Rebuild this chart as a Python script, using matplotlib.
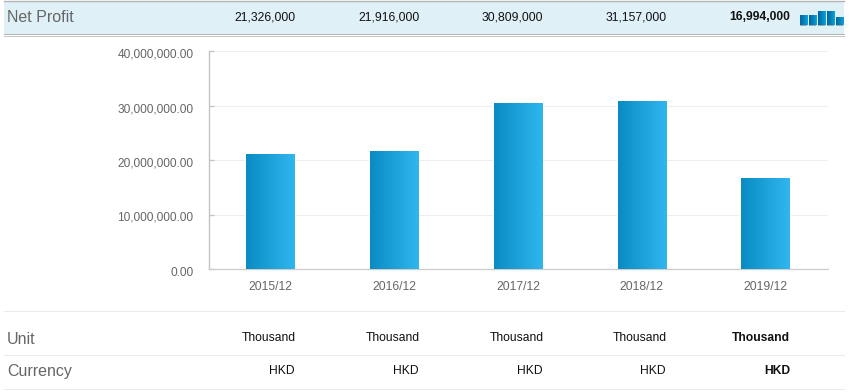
import matplotlib
matplotlib.use('Agg')
import matplotlib.pyplot as plt
from matplotlib.lines import Line2D
from matplotlib.patches import Rectangle
from matplotlib.ticker import FuncFormatter
from matplotlib.transforms import ScaledTranslation
import numpy as np

plt.rcParams['font.family'] = ['Liberation Sans', 'DejaVu Sans']

W, H = 850, 392
RIGHT = 844

# Data
periods = ['2015/12', '2016/12', '2017/12', '2018/12', '2019/12']
net_profit = [21326000, 21916000, 30809000, 31157000, 16994000]
# bar heights as drawn against the gridlines, a bit short of the printed figures
bar_heights = [21050000, 21550000, 30360000, 30730000, 16600000]
units = ['Thousand'] * 5
currencies = ['HKD'] * 5
y_ticks = [0, 10000000, 20000000, 30000000, 40000000]


def fx(px):
    return px / W


def fy(py):
    return 1 - py / H


def hline(fig, y, color, x0=4, x1=RIGHT, lw=0.72):
    fig.add_artist(Line2D([fx(x0), fx(x1)], [fy(y), fy(y)], color=color, lw=lw))


def px_axes(fig, left, top, right, bottom):
    return fig.add_axes([fx(left), fy(bottom), fx(right - left), (bottom - top) / H])


def gradient_bars(ax, bars, c_left, c_right):
    cmap = matplotlib.colors.LinearSegmentedColormap.from_list('g', [c_left, c_right])
    grad = np.linspace(0, 1, 64).reshape(1, -1)
    for b in bars:
        ax.imshow(grad, cmap=cmap, aspect='auto', zorder=3,
                  extent=[b.get_x(), b.get_x() + b.get_width(), 0, b.get_height()])


fig = plt.figure(figsize=(W / 100, H / 100), dpi=100, facecolor='white')

# Header band
fig.add_artist(Rectangle((fx(4), fy(34)), (RIGHT - 4) / W, 33 / H, color='#dff0f7', lw=0, zorder=-1))
hline(fig, 0.5, '#b4b4b4', lw=1.0)
hline(fig, 34, '#b4b4b4')
hline(fig, 36, '#c4c4c4')

# Table rows
hline(fig, 311, '#eaeaea')
hline(fig, 355, '#eaeaea')
hline(fig, 389, '#eaeaea')

# Main chart
ax = px_axes(fig, 208.5, 51, 827.5, 269)
x = np.arange(len(periods))
bars = ax.bar(x, bar_heights, width=0.39, color='white', edgecolor='white', lw=1.4, zorder=2)
gradient_bars(ax, bars, '#0a8cc3', '#30b6ef')
ax.set_xlim(-0.5, 4.5)
ax.set_ylim(0, 40000000)
ax.set_xticks(x, periods)
ax.set_yticks(y_ticks)
ax.yaxis.set_major_formatter(FuncFormatter(lambda v, p: f'{v:,.2f}'))
ax.grid(axis='y', color='#eeeeee', lw=0.8)
ax.set_axisbelow(True)
for s in ['top', 'right']:
    ax.spines[s].set_visible(False)
ax.spines['left'].set_color('#c4c4c4')
ax.spines['left'].set_linewidth(1.0)
ax.spines['bottom'].set_color('#cccccc')
ax.spines['bottom'].set_linewidth(0.9)
ax.tick_params(axis='x', length=0, pad=8.5, labelsize=8.7, labelcolor='#666666')
ax.tick_params(axis='y', length=3.6, width=0.9, direction='in', color='#c4c4c4', pad=10.8,
               labelsize=8.6, labelcolor='#666666')
# y labels sit about 2px under their gridlines
down = ScaledTranslation(0, -2 / 100, fig.dpi_scale_trans)
for lab in ax.get_yticklabels():
    lab.set_transform(lab.get_transform() + down)

# Sparkline in the header, with a grey foot under each bar
spark = px_axes(fig, 799, 10.5, 844, 26)
spark_bars = spark.bar(x, net_profit, width=0.78, color='#0a8cc3')
spark.bar(x, [-2200000] * 5, width=0.78, color='#98a6ae')
gradient_bars(spark, spark_bars, '#00659a', '#0aa2da')
spark.set_xlim(-0.5, 4.5)
spark.set_ylim(-2200000, 32300000)
spark.axis('off')

# Column text, right aligned to each bar's right edge
col_right = [295.5, 419.5, 543.5, 666.5, 790.5]
for i, r in enumerate(col_right):
    weight = 'bold' if i == len(col_right) - 1 else 'normal'
    fig.text(fx(r), fy(17.5), f'{net_profit[i]:,}', ha='right', va='center',
             fontsize=8.7, color='#111111', fontweight=weight)
    fig.text(fx(r), fy(338), units[i], ha='right', va='center',
             fontsize=8.7, color='#111111', fontweight=weight)
    fig.text(fx(r - 0.5), fy(371.5), currencies[i], ha='right', va='center',
             fontsize=8.7, color='#111111', fontweight=weight)

for label, y in [('Net Profit', 17), ('Unit', 339.5), ('Currency', 371.5)]:
    fig.text(fx(7), fy(y), label, ha='left', va='center', fontsize=11.5, color='#666666')

fig.savefig('out.png', dpi=100)
